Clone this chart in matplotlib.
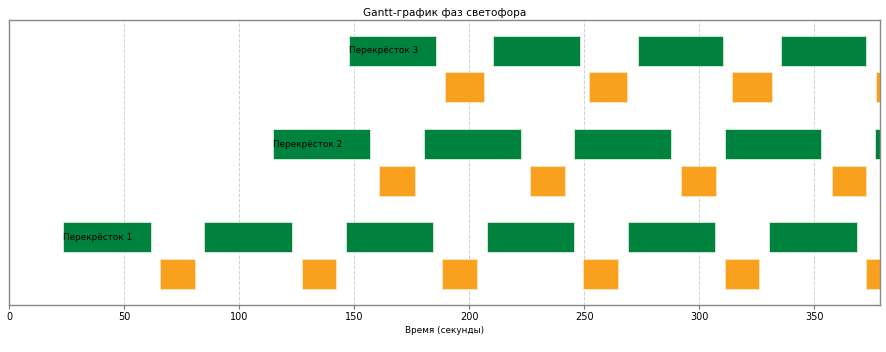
import matplotlib
matplotlib.use("Agg")
import matplotlib.pyplot as plt

# Intersections
intersections = ["Перекрёсток 1", "Перекрёсток 2", "Перекрёсток 3"]

# Green phases (start, duration) in seconds
green_starts_1 = [23.6, 84.9, 146.4, 207.8, 269.1, 330.3]
green_durs_1 = [38.0, 38.1, 38.1, 38.0, 37.9, 38.3]
green_starts_2 = [114.9, 180.3, 245.8, 311.2, 376.3]
green_durs_2 = [42.2, 42.2, 41.9, 41.8, 42.0]
green_starts_3 = [148.0, 210.2, 273.2, 335.4]
green_durs_3 = [37.4, 37.9, 37.1, 37.2]

# Yellow (amber) phases (start, duration)
amber_starts_1 = [65.8, 127.3, 188.3, 249.7, 311.2, 372.6]
amber_durs_1 = [15.1, 14.9, 15.2, 15.2, 14.9, 15.0]
amber_starts_2 = [161.0, 226.4, 292.2, 357.6]
amber_durs_2 = [15.5, 15.3, 15.2, 15.0]
amber_starts_3 = [189.6, 251.9, 314.2, 376.7]
amber_durs_3 = [16.8, 16.8, 17.3, 17.0]

green_starts = [green_starts_1, green_starts_2, green_starts_3]
green_durs = [green_durs_1, green_durs_2, green_durs_3]
amber_starts = [amber_starts_1, amber_starts_2, amber_starts_3]
amber_durs = [amber_durs_1, amber_durs_2, amber_durs_3]

# row layout
amber_rows = [0.0, 2.55, 5.1]
green_rows = [1.0, 3.55, 6.1]
bar_h = 0.82

xticks = [0, 50, 100, 150, 200, 250, 300, 350]

GREEN = "#00823F"
AMBER = "#F9A11E"

fig = plt.figure(figsize=(8.86, 3.52), dpi=100)
ax = fig.add_axes([9 / 886, 1 - 305 / 352, 871 / 886, 285 / 352])

for i, name in enumerate(intersections):
    g = list(zip(green_starts[i], green_durs[i]))
    a = list(zip(amber_starts[i], amber_durs[i]))
    ax.broken_barh(g, (green_rows[i] - bar_h / 2, bar_h), facecolors=GREEN,
                   edgecolor="#d8f0d8", linewidth=0.6, zorder=2)
    ax.broken_barh(a, (amber_rows[i] - bar_h / 2, bar_h), facecolors=AMBER,
                   edgecolor="#fde6c0", linewidth=0.6, zorder=2)
    ax.text(green_starts[i][0], green_rows[i], name, ha="left", va="center",
            fontsize=6.4, color="black", zorder=3)

ax.set_xlim(0, 378.6)
ax.set_ylim(-0.847, 6.94)
ax.set_xticks(xticks)
ax.set_xticklabels([str(t) for t in xticks], fontsize=7)
ax.set_yticks([])
ax.tick_params(axis="x", length=3, width=0.8, color="#777777", pad=2)
ax.grid(axis="x", linestyle="--", color="#d0d0d0", linewidth=0.7, zorder=0)
ax.set_axisbelow(True)
for s in ax.spines.values():
    s.set_color("#888888")
    s.set_linewidth(1.0)

ax.set_xlabel("Время (секунды)", fontsize=6.4, labelpad=3)
ax.set_title("Gantt-график фаз светофора", fontsize=7.6, pad=3)

fig.savefig("out.png", dpi=100)
